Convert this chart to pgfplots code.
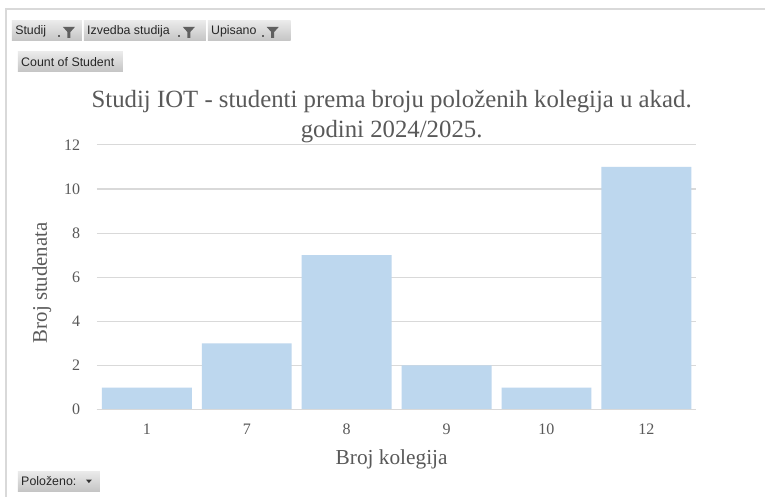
\documentclass[border=0pt]{standalone}
\usepackage{pgfplots}
\pgfplotsset{compat=1.18}
\usepackage{fontspec}
\setmainfont{Liberation Serif}
\newfontfamily\uifont{Liberation Sans}
\definecolor{barc}{HTML}{BDD7EE}
\definecolor{gridc}{HTML}{D9D9D9}
\definecolor{txt}{HTML}{595959}
\definecolor{framec}{HTML}{D9D9D9}
\definecolor{btop}{HTML}{EAEAEA}
\definecolor{bbot}{HTML}{C4C4C4}
\definecolor{icon}{HTML}{606060}
\pgfplotstableread{
x n
0 1
1 3
2 7
3 2
4 1
5 11
}\datatable
% button: x1, x2, ytop (pixel, from top), text
\newcommand\btn[4]{%
  \shade[top color=btop, bottom color=bbot] (#1,497-#3) rectangle (#2,497-#3-20);
  \node[anchor=west, inner sep=0pt, font=\uifont\fontsize{9.3}{10}\selectfont, text=black!85] at (#1+3,497-#3-10) {#4};
}
% funnel icon at left x, top y (pixel from top)
\newcommand\funnel[2]{%
  \fill[icon] (#1,497-#2) -- (#1+12,497-#2) -- (#1+7.5,497-#2-5) -- (#1+7.5,497-#2-11) -- (#1+4.5,497-#2-11) -- (#1+4.5,497-#2-5) -- cycle;
  \fill[icon] (#1-5,497-#2-8) rectangle (#1-2.5,497-#2-10);
}
\begin{document}
\begin{tikzpicture}[x=0.75pt,y=0.75pt]
\fill[white] (0,0) rectangle (766,497);
\draw[framec, line width=1.1pt] (6,0) -- (6,488) -- (766,488);
% filter buttons
\btn{12}{82}{21}{Studij}
\funnel{63}{27}
\btn{84}{206}{21}{Izvedba studija}
\funnel{183}{27}
\btn{208}{291}{21}{Upisano}
\funnel{267}{27}
\btn{18}{123}{52}{Count of Student}
\btn{18}{100}{472}{Položeno:}
\fill[black!80] (86,497-480) -- (92,497-480) -- (89,497-483.5) -- cycle;
% title
\node[text=txt, font=\fontsize{18.6}{22.5}\selectfont, align=center] at (392,497-117) {Studij IOT - studenti prema broju položenih kolegija u akad.\\godini 2024/2025.};
% axis labels
\node[text=txt, font=\fontsize{16}{18}\selectfont] at (392,497-460) {Broj kolegija};
\node[text=txt, font=\fontsize{15.6}{18}\selectfont, rotate=90] at (42,497-283) {Broj studenata};
\begin{axis}[
  at={(72.75pt,65.25pt)}, anchor=south west,
  scale only axis, width=450pt, height=198.75pt,
  xmin=-0.5, xmax=5.5, ymin=0, ymax=12,
  ytick={0,2,...,12},
  xtick=data, xticklabels={1,7,8,9,10,12},
  ymajorgrids, grid style={gridc, line width=0.8pt},
  axis line style={draw=none},
  major tick length=0pt,
  tick label style={text=txt, font=\fontsize{12}{14}\selectfont},
  /pgf/number format/assume math mode=true,
  yticklabel style={xshift=-9pt},
  xticklabel style={yshift=-7pt},
  clip=false,
]
\addplot[ybar, bar width=67.5pt, fill=barc, draw=none] table[x=x,y=n] {\datatable};
\draw[gridc, line width=0.8pt] (axis cs:-0.5,0) -- (axis cs:5.5,0);
\end{axis}
\end{tikzpicture}
\end{document}
